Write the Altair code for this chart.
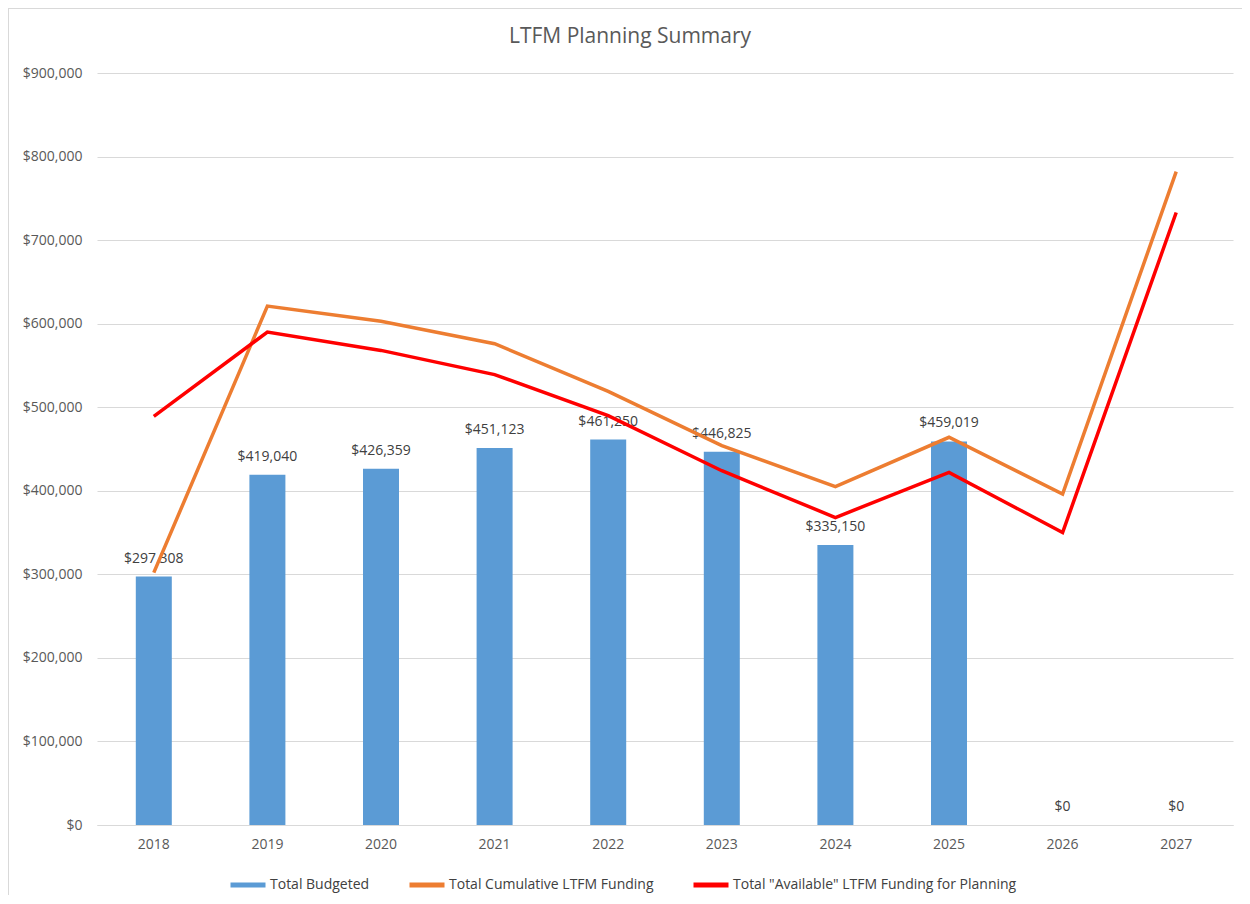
import altair as alt
import pandas as pd

years = ["2018", "2019", "2020", "2021", "2022", "2023", "2024", "2025", "2026", "2027"]
budgeted = [297308, 419040, 426359, 451123, 461250, 446825, 335150, 459019, 0, 0]
cumulative = [302000, 621000, 603000, 576000, 519000, 454000, 405000, 464000, 396000, 782000]
available = [489000, 590000, 568000, 539000, 490000, 424000, 368000, 422000, 350000, 733000]

S_BUD = "Total Budgeted"
S_CUM = "Total Cumulative LTFM Funding"
S_AVL = 'Total "Available" LTFM Funding for Planning'

bars_df = pd.DataFrame({"year": years, "value": budgeted})
lines_df = pd.concat([
    pd.DataFrame({"year": years, "value": cumulative, "series": S_CUM}),
    pd.DataFrame({"year": years, "value": available, "series": S_AVL}),
])

FONT = "Open Sans"
FS = 14
W, H = 1136, 752

x = alt.X("year:N", title=None, sort=years,
          scale=alt.Scale(paddingInner=0, paddingOuter=0),
          axis=alt.Axis(labelAngle=0, ticks=False, grid=False, domain=True, domainColor="#d9d9d9",
                        labelPadding=12, labelFontSize=FS, labelColor="#595959", labelFont=FONT))
y = alt.Y("value:Q", title=None,
          scale=alt.Scale(domain=[0, 900000], nice=False),
          axis=alt.Axis(values=list(range(0, 900001, 100000)), format="$,.0f", ticks=False,
                        grid=True, domain=False, gridColor="#d9d9d9", labelPadding=15,
                        labelFontSize=FS, labelColor="#595959", labelFont=FONT))

bars = alt.Chart(bars_df).mark_bar(size=36, color="#5B9BD5").encode(x=x, y=y)

labels = alt.Chart(bars_df).mark_text(dy=-11, fontSize=FS, color="#404040", font=FONT,
                                      baseline="bottom").encode(
    x=alt.X("year:N", sort=years), y="value:Q",
    text=alt.Text("value:Q", format="$,.0f"))

lines = alt.Chart(lines_df).mark_line(strokeWidth=3.5).encode(
    x=alt.X("year:N", sort=years), y="value:Q",
    color=alt.Color("series:N",
                    scale=alt.Scale(domain=[S_BUD, S_CUM, S_AVL],
                                    range=["#5B9BD5", "#ED7D31", "#FF0000"]),
                    legend=alt.Legend(title=None, orient="none", direction="horizontal",
                                      legendX=131, legendY=792,
                                      symbolType="stroke", symbolStrokeWidth=5,
                                      symbolSize=1225, columnPadding=29, labelOffset=2,
                                      labelLimit=500, padding=0,
                                      labelFontSize=FS, labelColor="#404040", labelFont=FONT)),
    detail="series:N")

frame_left = alt.Chart(bars_df).mark_rule(color="#d9d9d9", strokeWidth=1.5).encode(
    x=alt.value(-89), y=alt.value(-65), y2=alt.value(H + 70))
frame_top = alt.Chart(bars_df).mark_rule(color="#d9d9d9", strokeWidth=1.5).encode(
    x=alt.value(-89), x2=alt.value(W + 20), y=alt.value(-65))

chart = alt.layer(frame_left, frame_top, bars, labels, lines).properties(
    width=W, height=H,
    autosize=alt.AutoSizeParams(type="none"),
    padding={"left": 89, "top": 65, "right": 9, "bottom": 70},
    title=alt.TitleParams("LTFM Planning Summary", fontSize=21, fontWeight="normal",
                          color="#595959", font=FONT, anchor="middle", offset=-40, dx=-35),
).configure_view(stroke=None)

chart.save("out.html", embed_options={"renderer": "svg", "actions": False})
